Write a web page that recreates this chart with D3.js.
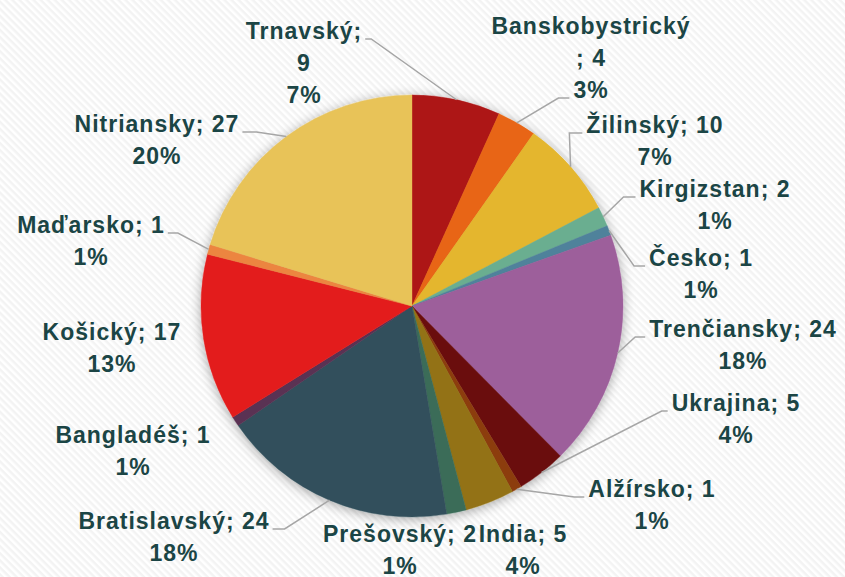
<!DOCTYPE html>
<html><head><meta charset="utf-8">
<script src="https://cdn.jsdelivr.net/npm/d3@7"></script>
<style>
html,body{margin:0;padding:0;background:#fff;}
svg{display:block;}
</style></head>
<body>
<svg id="chart" width="845" height="577"></svg>
<script>
// ---- data ----
const categories = ["Trnavský","Banskobystrický","Žilinský","Kirgizstan","Česko","Trenčiansky","Ukrajina","Alžírsko","India","Prešovský","Bratislavský","Bangladéš","Košický","Maďarsko","Nitriansky"];
const values = [9,4,10,2,1,24,5,1,5,2,24,1,17,1,27];
const percentLabels = ["7%","3%","7%","1%","1%","18%","4%","1%","4%","1%","18%","1%","13%","1%","20%"];
const colors = ["#ad1515","#e86513","#e4b62d","#6aae90","#50829b","#9d5e9b","#6b0d0d","#8c3c0c","#937214","#3b6c58","#32505c","#5a3052","#e31f1e","#ec8540","#e8c359"];

// ---- layout (label anchor: centre x, first baseline; leader attach) ----
const labelLayout = [
  {x:304, y:39,  brk:"after",  leader:{line:0, side:"right", elbow:6}},
  {x:591, y:34,  brk:"before", leader:{line:2, side:"left", elbow:11}},
  {x:655, y:133, leader:{line:0, side:"left", elbow:13}},
  {x:715, y:197, leader:{line:0, side:"left", elbow:12}},
  {x:701, y:266, leader:{line:0, side:"left", elbow:11}},
  {x:743, y:337, leader:{line:0, side:"left", elbow:10}},
  {x:736, y:411, leader:{line:0, side:"left", elbow:6}},
  {x:652, y:497, leader:{line:0, side:"left", elbow:10}},
  {x:523, y:542},
  {x:400, y:542},
  {x:174, y:529, leader:{line:0, side:"right", elbow:12}},
  {x:133, y:443},
  {x:112, y:340},
  {x:91,  y:233, leader:{line:0, side:"right", elbow:10}},
  {x:157, y:132, leader:{line:0, side:"right", elbow:14}}
];

const W = 845, H = 577, cx = 412, cy = 306, R = 211, LH = 32;
const svg = d3.select("#chart");
const defs = svg.append("defs");

// background stripes
const pat = defs.append("pattern").attr("id","stripes").attr("patternUnits","userSpaceOnUse")
  .attr("width",5).attr("height",5).attr("patternTransform","rotate(-45)");
pat.append("rect").attr("width",5).attr("height",5).attr("fill","#f3f3f3");
pat.append("rect").attr("width",2.5).attr("height",5).attr("fill","#ffffff");
svg.append("rect").attr("width",W).attr("height",H).attr("fill","url(#stripes)");

const f = defs.append("filter").attr("id","shadow").attr("x","-20%").attr("y","-20%").attr("width","140%").attr("height","140%");
f.append("feDropShadow").attr("dx",0).attr("dy",2).attr("stdDeviation",6)
  .attr("flood-color","#000").attr("flood-opacity",0.35);

const data = categories.map((c,i)=>({cat:c, val:values[i], pct:percentLabels[i], color:colors[i], lay:labelLayout[i]}));
const pie = d3.pie().sort(null).value(d=>d.val).startAngle(0).endAngle(2*Math.PI);
const arcs = pie(data);
const arc = d3.arc().innerRadius(0).outerRadius(R);
const edgeArc = d3.arc().innerRadius(R).outerRadius(R);

const g = svg.append("g").attr("transform",`translate(${cx},${cy})`);
const pg = g.append("g").attr("filter","url(#shadow)");
pg.selectAll("path").data(arcs).join("path")
  .attr("d",arc).attr("fill",d=>d.data.color)
  .attr("stroke",d=>d.data.color).attr("stroke-width",0.4);

// labels
const lg = svg.append("g")
  .attr("font-family","'Liberation Sans', Arial, sans-serif")
  .attr("font-weight","bold").attr("font-size",23)
  .attr("letter-spacing","1px")
  .attr("fill","#1b4545");
const leaderG = svg.append("g").attr("fill","none").attr("stroke","#a6a6a6").attr("stroke-width",1.5);

arcs.forEach(a=>{
  const d = a.data, L = d.lay;
  let lines;
  if (L.brk==="after") lines = [d.cat+";", String(d.val), d.pct];
  else if (L.brk==="before") lines = [d.cat, "; "+d.val, d.pct];
  else lines = [d.cat+"; "+d.val, d.pct];
  const t = lg.append("text").attr("text-anchor","middle");
  const spans = lines.map((s,k)=> t.append("tspan").attr("x",L.x).attr("y",L.y+k*LH).text(s));
  if (L.leader){
    const sp = spans[L.leader.line].node();
    const bb = sp.getBBox();
    const ly = L.y + L.leader.line*LH;
    const endX = L.leader.side==="left" ? bb.x - 4 : bb.x + bb.width + 3;
    const elbowX = L.leader.side==="left" ? endX - L.leader.elbow : endX + L.leader.elbow;
    const c = edgeArc.centroid(a);
    const start = [cx + c[0], cy + c[1]];
    leaderG.append("path").attr("d", d3.line()([start,[elbowX,ly],[endX,ly]]));
  }
});
</script>
</body></html>
